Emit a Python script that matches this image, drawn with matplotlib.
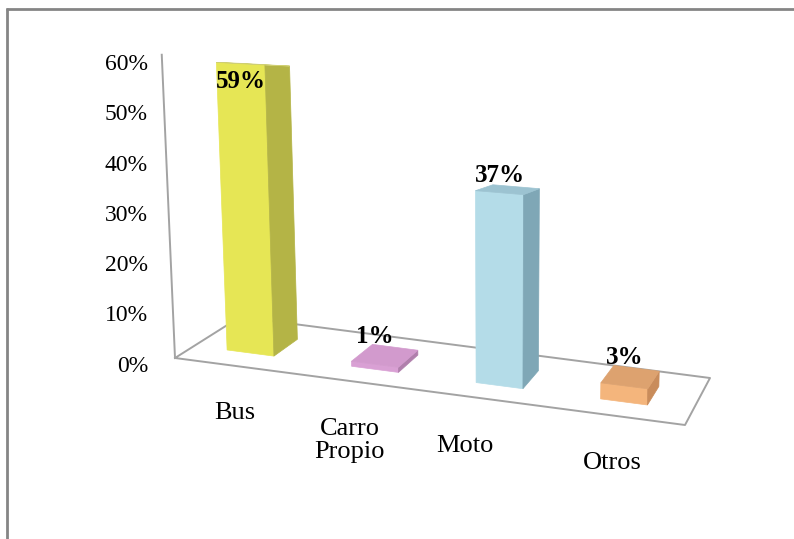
import numpy as np
import matplotlib.pyplot as plt
from matplotlib.patches import Polygon

# survey results: transport used
categories = ['Bus', 'Carro\nPropio', 'Moto', 'Otros']
shares = [0.59, 0.01, 0.37, 0.03]
share_labels = ['59%', '1%', '37%', '3%']
yticks = [0.0, 0.1, 0.2, 0.3, 0.4, 0.5, 0.6]
ytick_labels = ['0%', '10%', '20%', '30%', '40%', '50%', '60%']

face_colors = {
    'Bus':   ('#E6E655', '#B4B446', '#CFCF72'),
    'Carro': ('#D9A0D4', '#B07FAC', '#D29ACD'),
    'Moto':  ('#B4DCE8', '#7FA7B6', '#9CC3D1'),
    'Otros': ('#F4B57C', '#C98C5B', '#DDA26F'),
}
color_keys = ['Bus', 'Carro', 'Moto', 'Otros']
# small horizontal nudges for the category labels (px)
label_dx = [2, -10, -22, -3]

plt.rcParams['font.family'] = ['Liberation Serif', 'DejaVu Serif']

W, H = 794, 539
fig = plt.figure(figsize=(W / 100, H / 100), dpi=100)
ax = fig.add_axes([0, 0, 1, 1])
ax.set_xlim(0, W)
ax.set_ylim(H, 0)
ax.axis('off')

# floor quad of the 3d plot (front-left, front-right, back-left, back-right)
FL = np.array([175.0, 358.0])
FR = np.array([685.0, 425.0])
BL = np.array([240.0, 317.0])
BR = np.array([710.0, 378.0])
VP = np.array([500.0, 7800.0])   # verticals converge far below
HORIZON = 1.2


def floor(u, w):
    front = FL + (FR - FL) * u
    back = BL + (BR - BL) * u
    return front + (back - front) * w


def proj(u, w, h):
    p0 = floor(u, 0)
    p = floor(u, w)
    d = p - p0
    d[1] *= (1 - h / HORIZON)
    q = p0 + d
    up = (q - VP) / np.linalg.norm(q - VP)
    scale = 503 + 0.97 * (p[1] - 355)
    return q + up * h * scale


def quad(pts, color, z):
    ax.add_patch(Polygon(pts, closed=True, facecolor=color, edgecolor=color,
                         lw=0.5, zorder=z))


# outer frame
ax.plot([6, W + 5], [8.5, 8.5], color='#858585', lw=2, zorder=1,
        solid_capstyle='butt')
ax.plot([7, 7], [8, H + 5], color='#858585', lw=2, zorder=1,
        solid_capstyle='butt')

# floor outline and vertical axis
corners = [floor(0, 0), floor(1, 0), floor(1, 1), floor(0, 1), floor(0, 0)]
ax.plot([c[0] for c in corners], [c[1] for c in corners],
        color='#a3a3a3', lw=1.4, zorder=2)
a0, a1 = proj(0, 0, 0), proj(0, 0, yticks[-1])
ax.plot([a0[0], a1[0]], [a0[1], a1[1]], color='#a3a3a3', lw=1.4, zorder=2)

# tick labels along the vertical axis
for t, lab in zip(yticks, ytick_labels):
    y = 366 - t * 502
    ax.text(148, y, lab, ha='right', va='center', fontsize=17, zorder=5)

# bars
n = len(categories)
du = 0.047
w0, w1 = 0.3, 0.7
for i, (cat, v) in enumerate(zip(categories, shares)):
    uc = (i + 0.45) / n
    u0, u1 = uc - du, uc + du
    front, side, top = face_colors[color_keys[i]]
    z = 3 + i
    quad([proj(u0, w0, 0), proj(u1, w0, 0), proj(u1, w0, v), proj(u0, w0, v)],
         front, z)
    quad([proj(u1, w0, 0), proj(u1, w1, 0), proj(u1, w1, v), proj(u1, w0, v)],
         side, z)
    quad([proj(u0, w0, v), proj(u1, w0, v), proj(u1, w1, v), proj(u0, w1, v)],
         top, z)

    tx = proj(uc, w0, v)[0]
    ty = max(proj(uc, w1, v)[1] - 11, 82)
    ax.text(tx, ty, share_labels[i], ha='center', va='center',
            fontsize=18, fontweight='bold', zorder=10)

    # category label below the front edge
    base = floor(uc, 0)
    ax.text(base[0] + label_dx[i], base[1] + 36, cat, ha='center', va='top',
            fontsize=19, linespacing=1.05, zorder=5)

fig.savefig('out.png', dpi=100, facecolor='white')
